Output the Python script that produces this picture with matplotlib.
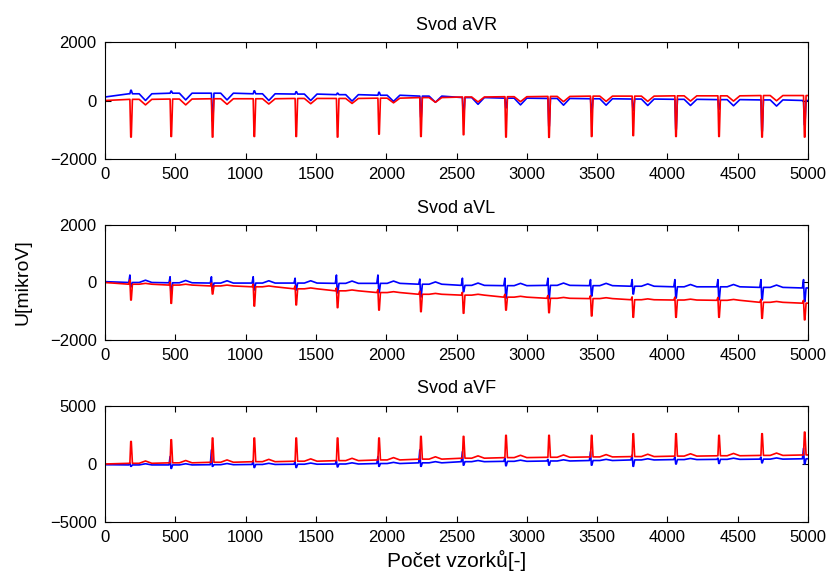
import numpy as np
import matplotlib.pyplot as plt

plt.rcParams['font.family'] = ['Liberation Sans', 'DejaVu Sans']

# sample index of every heart beat (R peak)
beats = [183, 469, 763, 1060, 1358, 1652, 1947, 2245, 2548, 2850,
         3156, 3459, 3755, 4059, 4365, 4671, 4974]

# --- Svod aVR ---
avr_red_start = 0
avr_red_base = [40, 50, 60, 60, 70, 70, 80, 100, 120, 130, 140, 150, 150, 160, 160, 170, 170]
avr_red_peak = [-1250, -1230, -1250, -1230, -1230, -1250, -1150, -1230, -1170, -1250,
                -1260, -1230, -1200, -1230, -1230, -1250, -1250]
avr_red_t = [-150, -150, -130, -120, -110, -100, -80, -60, -50, -40, -40, -30, -30, -20, -20, -10, -10]

avr_blue_start = 120
avr_blue_base = [230, 250, 250, 230, 220, 200, 180, 150, 100, 80, 70, 60, 50, 40, 30, 20, 0]
avr_blue_peak = [350, 320, -700, 330, 300, 250, 280, -570, -530, -250, -880, -400, -340,
                 -990, -300, -1050, -830]
avr_blue_t = [0, 20, 20, 0, 0, -20, -30, -60, -130, -150, -160, -160, -170, -170, -180, -190, -200]

# --- Svod aVL ---
avl_red_start = 0
avl_red_base = [-60, -90, -120, -150, -220, -290, -350, -410, -440, -510, -550, -560, -600,
                -610, -620, -690, -720]
avl_red_pre = [90, 20, -20, -60, -120, -190, -250, -300, -340, -410, -450, -460, -500,
               -510, -520, -590, -620]
avl_red_peak = [-610, -725, -400, -820, -780, -875, -960, -1015, -1070, -960, -1050, -1165,
                -1210, -1210, -1210, -1245, -1300]
avl_red_t = [-30, -60, -90, -120, -190, -260, -320, -380, -410, -480, -520, -530, -570,
             -580, -590, -660, -690]

avl_blue_start = 30
avl_blue_base = [0, -10, -20, -20, -20, -30, -30, -60, -100, -110, -100, -110, -130, -150,
                 -150, -170, -190]
avl_blue_pre = [260, 200, 200, 200, 150, 260, 260, 120, 150, 150, 150, 100, 100, 100, 100, 100, 100]
avl_blue_peak = [-150, -380, -250, -260, -260, -360, -350, -500, -320, -540, -560, -470,
                 -400, -540, -600, -600, -660]
avl_blue_t = [80, 70, 60, 60, 60, 50, 50, 20, -20, -30, -20, -30, -50, -70, -70, -90, -110]

# --- Svod aVF ---
avf_red_start = 0
avf_red_base = [60, 100, 150, 200, 240, 290, 350, 420, 500, 550, 580, 610, 640, 680, 710, 740, 780]
avf_red_peak = [1940, 2090, 2240, 2240, 2240, 2240, 2240, 2380, 2380, 2470, 2470, 2470,
                2610, 2610, 2470, 2610, 2750]
avf_red_t = [260, 300, 350, 400, 440, 490, 550, 620, 700, 750, 780, 810, 840, 880, 910, 940, 980]

avf_blue_start = -60
avf_blue_base = [-80, -80, -60, -40, -20, 0, 40, 100, 200, 230, 260, 300, 350, 380, 400, 420, 450]
avf_blue_pre = [100, 640, 1220, 300, 200, 300, 640, 1220, 1070, 500, 400, 1070, 780, 600,
                500, 600, 1365]
avf_blue_peak = [-200, -380, -200, -300, -300, -250, -200, -200, -100, -150, -100, -100,
                 -200, 0, 50, 100, 0]
avf_blue_t = [20, 20, 40, 60, 80, 100, 140, 200, 300, 330, 360, 400, 450, 480, 500, 520, 550]

titles = ['Svod aVR', 'Svod aVL', 'Svod aVF']
ylims = [2000, 2000, 5000]
xticks = list(range(0, 5001, 500))


def trace(start, base, peak, twave, pre=None):
    # polyline through the read levels of each beat
    if pre is None:
        pre = base
    xs, ys = [0], [start]
    for b, lvl, q, p, t in zip(beats, base, pre, peak, twave):
        xs += [b - 14, b - 6, b, b + 4, b + 12, b + 20, b + 60, b + 105, b + 150]
        ys += [lvl, q, p, p, lvl, lvl, lvl, t, lvl]
    return np.array(xs), np.array(ys)


leads = [
    (trace(avr_blue_start, avr_blue_base, avr_blue_peak, avr_blue_t),
     trace(avr_red_start, avr_red_base, avr_red_peak, avr_red_t)),
    (trace(avl_blue_start, avl_blue_base, avl_blue_peak, avl_blue_t, avl_blue_pre),
     trace(avl_red_start, avl_red_base, avl_red_peak, avl_red_t, avl_red_pre)),
    (trace(avf_blue_start, avf_blue_base, avf_blue_peak, avf_blue_t, avf_blue_pre),
     trace(avf_red_start, avf_red_base, avf_red_peak, avf_red_t)),
]

fig = plt.figure(figsize=(8.32, 5.74), dpi=100)
boxes = [[0.1262, 0.7230, 0.845, 0.2038],
         [0.1262, 0.4077, 0.845, 0.2003],
         [0.1262, 0.0906, 0.845, 0.2021]]

for box, (blue, red), title, lim in zip(boxes, leads, titles, ylims):
    ax = fig.add_axes(box)
    ax.plot(blue[0], blue[1], color='#0000ff', lw=1.2)
    ax.plot(red[0], red[1], color='#ff0000', lw=1.2)
    ax.set_xlim(0, 5000)
    ax.set_ylim(-lim, lim)
    ax.set_xticks(xticks)
    ax.set_yticks([-lim, 0, lim])
    ax.tick_params(direction='in', length=4, width=0.8, top=True, right=True,
                   labelsize=12, pad=6)
    for s in ax.spines.values():
        s.set_linewidth(0.8)
    ax.set_title(title, fontsize=13, pad=9)

fig.text(0.028, 0.4077 + 0.2003 / 2, 'U[mikroV]', rotation=90, ha='center', va='center',
         fontsize=14)
fig.text(0.5487, 0.012, 'Počet vzorků[-]', ha='center', va='baseline', fontsize=15)

fig.savefig('out.png', dpi=100)
